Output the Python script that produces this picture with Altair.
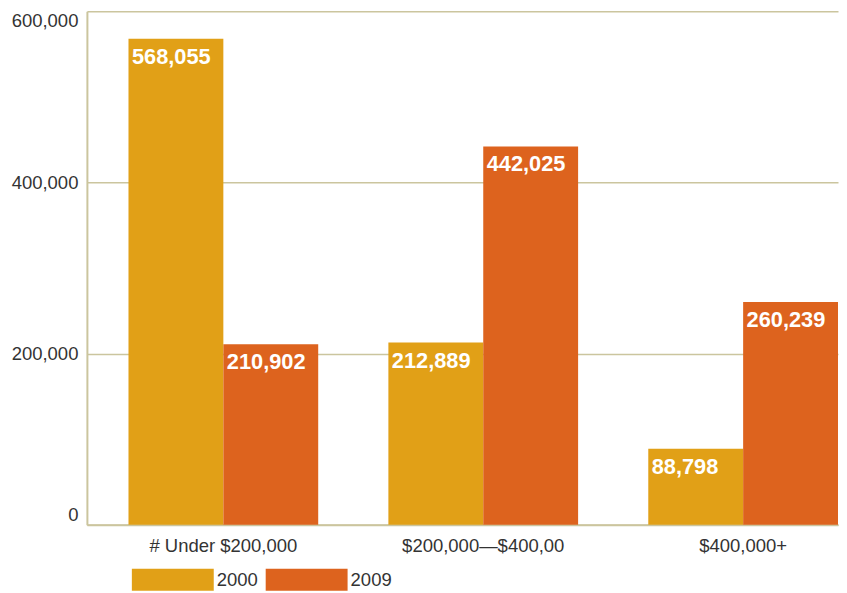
import altair as alt
import pandas as pd

categories = ["# Under $200,000", "$200,000—$400,00", "$400,000+"]
years = ["2000", "2009"]
values_2000 = [568055, 212889, 88798]
values_2009 = [210902, 442025, 260239]
y_ticks = [0, 200000, 400000, 600000]
colors = ["#E1A017", "#DD631E"]

rows = []
for i, c in enumerate(categories):
    rows.append({"category": c, "year": years[0], "value": values_2000[i]})
    rows.append({"category": c, "year": years[1], "value": values_2009[i]})
df = pd.DataFrame(rows)

tan = "#CBC59E"
font = "Liberation Sans"
fs = 18.5

x = alt.X("category:N", sort=categories, title=None,
          scale=alt.Scale(paddingInner=0.27, paddingOuter=0.08, align=1),
          axis=alt.Axis(labelAngle=0, labelFontSize=fs, labelColor="#333333", labelFont=font,
                        labelPadding=12, ticks=False, domainColor=tan, domainWidth=2, grid=False))
y = alt.Y("value:Q", title=None,
          scale=alt.Scale(domain=[0, 600000], nice=False, zero=True),
          axis=alt.Axis(values=y_ticks, format=",.0f", labelFontSize=fs, labelColor="#333333",
                        labelFont=font, labelPadding=9, labelFlush=True, ticks=False,
                        domainColor=tan, domainWidth=2, gridColor=tan, gridWidth=1.5))
xoff = alt.XOffset("year:N", sort=years, scale=alt.Scale(paddingInner=0, paddingOuter=0))

bars = alt.Chart(df).mark_bar().encode(
    x=x, y=y, xOffset=xoff,
    color=alt.Color("year:N", sort=years, scale=alt.Scale(domain=years, range=colors),
                    legend=alt.Legend(title=None, orient="none", legendX=75, legendY=558,
                                      direction="horizontal",
                                      symbolType="M-3.727,-1H3.727V1H-3.727Z", symbolSize=484,
                                      symbolStrokeWidth=0, symbolOpacity=1,
                                      labelFontSize=fs, labelFont=font, labelColor="#333333",
                                      labelOffset=33, columnPadding=7, padding=0))
)

text = alt.Chart(df).mark_text(align="left", baseline="top", dx=-44, dy=8, color="white",
                               fontWeight="bold", fontSize=21.8, font=font).encode(
    x=x, y=y, xOffset=xoff, text=alt.Text("value:Q", format=",")
)

chart = alt.layer(bars, text).properties(
    width=752, height=514,
    padding={"left": 3, "top": 3, "right": 0, "bottom": 0}
).configure_view(stroke=None)

chart.save("out.html", embed_options={"renderer": "svg", "actions": False})
